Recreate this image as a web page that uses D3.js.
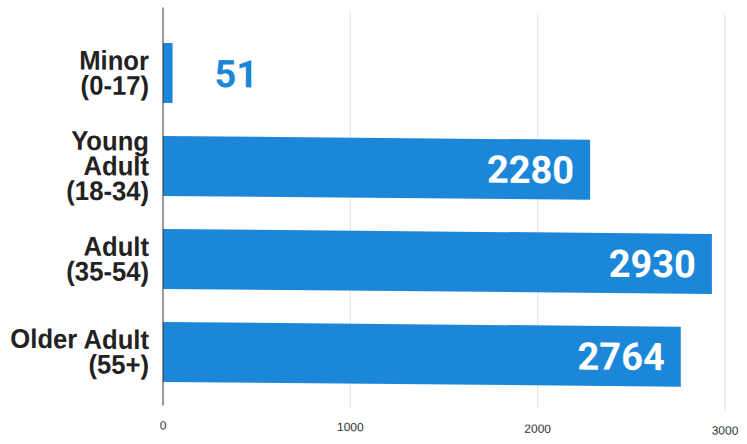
<!DOCTYPE html>
<html>
<head>
<meta charset="utf-8">
<script src="https://cdn.jsdelivr.net/npm/d3@7"></script>
<style>
  body { margin: 0; background: #fff; }
</style>
</head>
<body>
<div id="chart"></div>
<script>
const categories = [
  ['Minor', '(0-17)'],
  ['Young', 'Adult', '(18-34)'],
  ['Adult', '(35-54)'],
  ['Older Adult', '(55+)']
];
const values = [51, 2280, 2930, 2764];
const ticks = [0, 1000, 2000, 3000];

const WIDTH = 747, HEIGHT = 444;
const X0 = 163, X1 = 725;
const BLUE = '#1c87d9';

let svg = d3.select('#chart').append('svg')
    .attr('width', WIDTH)
    .attr('height', HEIGHT);

// the scan is slightly sheared: horizontal lines drop to the right
let g = svg.append('g').attr('transform', 'skewY(0.52)');

let x = d3.scaleLinear().domain([0, 3000]).range([X0, X1]);
let y = d3.scaleBand()
    .domain(categories.map((c, i) => i))
    .range([25, 397])
    .paddingInner(0.355)
    .paddingOuter(0.1775);

// gridlines
g.append('g')
    .selectAll('line')
    .data(ticks.slice(1))
    .join('line')
    .attr('x1', d => x(d)).attr('x2', d => x(d))
    .attr('y1', 8).attr('y2', 404)
    .attr('stroke', '#e8e8e8')
    .attr('stroke-width', 1.5);

// bars
g.append('g')
    .selectAll('rect')
    .data(values)
    .join('rect')
    .attr('x', x(0))
    .attr('y', (d, i) => y(i))
    .attr('width', d => x(d) - x(0))
    .attr('height', y.bandwidth())
    .attr('fill', BLUE);

// zero axis line
g.append('line')
    .attr('x1', x(0)).attr('x2', x(0))
    .attr('y1', 6).attr('y2', 404)
    .attr('stroke', '#333')
    .attr('stroke-width', 1);

// value labels
g.append('g')
    .selectAll('text')
    .data(values)
    .join('text')
    .attr('x', d => d > 500 ? x(d) - 16 : x(d) + 42)
    .attr('y', (d, i) => y(i) + y.bandwidth() / 2)
    .attr('dy', '0.36em')
    .attr('text-anchor', d => d > 500 ? 'end' : 'start')
    .attr('fill', d => d > 500 ? '#fff' : BLUE)
    .style('font-family', 'Roboto, sans-serif')
    .style('font-weight', 'bold')
    .style('font-size', '38px')
    .text(d => d);

// category labels
let lab = g.append('g')
    .selectAll('text')
    .data(categories)
    .join('text')
    .attr('text-anchor', 'end')
    .attr('fill', '#222')
    .style('font-family', '"Liberation Sans", Arial, sans-serif')
    .style('font-weight', 'bold')
    .style('font-size', '27px');

lab.each(function(lines, i) {
    let cy = y(i) + y.bandwidth() / 2;
    let lh = 25;
    let top = cy - (lines.length - 1) * lh / 2;
    d3.select(this)
        .attr('transform', 'translate(149,0) scale(0.95,1)')
        .selectAll('tspan')
        .data(lines)
        .join('tspan')
        .attr('x', 0)
        .attr('y', (l, j) => top + j * lh)
        .attr('dy', '0.36em')
        .text(l => l);
});

// tick labels
g.append('g')
    .selectAll('text')
    .data(ticks)
    .join('text')
    .attr('x', d => x(d))
    .attr('y', 428)
    .attr('text-anchor', 'middle')
    .attr('fill', '#333')
    .style('font-family', '"Liberation Sans", Arial, sans-serif')
    .style('font-size', '12px')
    .text(d => d);
</script>
</body>
</html>
